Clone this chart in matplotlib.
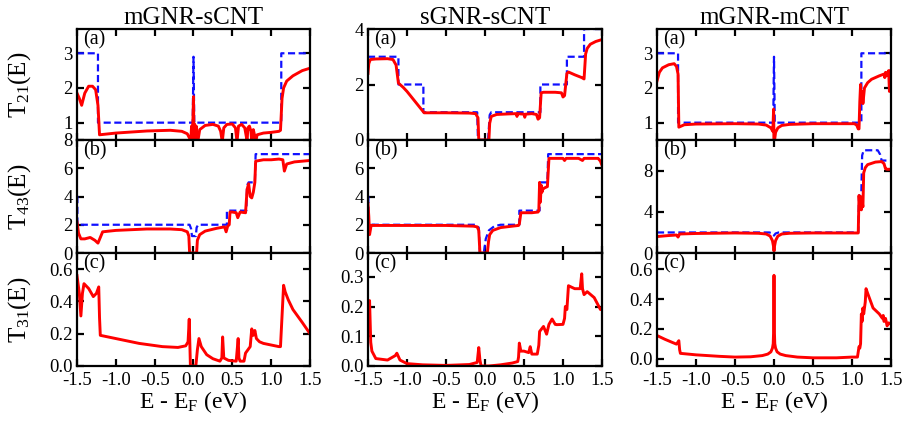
import numpy as np
import matplotlib
matplotlib.use("Agg")
import matplotlib.pyplot as plt
from matplotlib.ticker import FormatStrFormatter

plt.rcParams['font.family'] = ['Liberation Serif', 'DejaVu Serif']
plt.rcParams['mathtext.default'] = 'regular'

titles = ["mGNR-sCNT", "sGNR-sCNT", "mGNR-mCNT"]
row_ylabels = ["T$_{21}$(E)", "T$_{43}$(E)", "T$_{31}$(E)"]
panel_tags = ["(a)", "(b)", "(c)"]
x_ticks = [-1.5, -1.0, -0.5, 0.0, 0.5, 1.0, 1.5]

# ---- mGNR-sCNT ----
ms_a_ideal_x = [-1.5, -1.23, -1.23, -0.01, 0.0, 0.01, 1.13, 1.13, 1.5]
ms_a_ideal_y = [3, 3, 1, 1, 2.9, 1, 1, 3, 3]
ms_a_x = [-1.5, -1.47, -1.44, -1.4, -1.35, -1.3, -1.26, -1.23, -1.21, -1.0, -0.6, -0.3, -0.15,
          -0.08, -0.05, -0.035, -0.025, -0.015, -0.008, 0.0, 0.006, 0.015, 0.025, 0.035, 0.045,
          0.055, 0.08, 0.15, 0.25, 0.32, 0.35, 0.37, 0.39, 0.43, 0.5, 0.54, 0.56, 0.58, 0.62,
          0.66, 0.68, 0.69, 0.7, 0.72, 0.74, 0.75, 0.77, 0.79, 0.8, 0.82, 0.9, 1.0, 1.1, 1.12,
          1.14, 1.16, 1.2, 1.28, 1.4, 1.5]
ms_a_y = [1.85, 1.7, 1.5, 1.85, 2.05, 2.05, 1.95, 1.5, 0.65, 0.7, 0.76, 0.78, 0.75,
          0.68, 0.55, 0.45, 0.9, 0.45, 1.0, 1.75, 0.45, 0.95, 0.45, 0.9, 0.5,
          0.45, 0.8, 0.92, 0.95, 0.9, 0.75, 0.45, 0.85, 0.95, 0.96, 0.85, 0.45, 0.9, 0.95,
          0.85, 0.6, 0.45, 0.85, 0.9, 0.75, 0.45, 0.8, 0.6, 0.45, 0.65, 0.7, 0.72, 0.75, 0.78,
          1.7, 2.0, 2.2, 2.35, 2.5, 2.57]
ms_b_ideal_x = [-1.5, -1.495, -1.495, -0.05, -0.03, -0.02, 0.03, 0.04, 0.06, 0.43, 0.43, 0.68,
                0.69, 0.71, 0.79, 0.8, 1.5]
ms_b_ideal_y = [4, 4, 2, 2, 1.7, 1.2, 1.2, 1.8, 2.0, 2.0, 3.0, 3.0, 4.8, 5.0, 5.0, 7.0, 7.0]
ms_b_x = [-1.5, -1.48, -1.45, -1.4, -1.33, -1.27, -1.23, -1.2, -1.17, -1.0, -0.6, -0.3, -0.15,
          -0.08, -0.06, -0.05, 0.04, 0.05, 0.08, 0.15, 0.3, 0.4, 0.42, 0.44, 0.46, 0.47, 0.5,
          0.55, 0.57, 0.6, 0.67, 0.69, 0.71, 0.73, 0.75, 0.77, 0.79, 0.8, 0.9, 1.0, 1.1, 1.15,
          1.17, 1.2, 1.3, 1.5]
ms_b_y = [2.2, 1.4, 1.0, 1.0, 1.1, 0.9, 0.7, 1.1, 1.5, 1.6, 1.7, 1.7, 1.65,
          1.5, 1.2, 0.0, 0.0, 0.9, 1.3, 1.55, 1.75, 1.85, 1.5, 1.9, 2.0, 2.9, 2.9,
          2.85, 2.5, 2.9, 2.85, 4.5, 4.9, 4.0, 3.9, 4.3, 5.0, 6.5, 6.6, 6.6, 6.65, 6.6,
          5.8, 6.3, 6.45, 6.55]
ms_c_x = [-1.5, -1.47, -1.45, -1.43, -1.41, -1.35, -1.29, -1.25, -1.22, -1.21, -1.2, -1.0, -0.7,
          -0.4, -0.2, -0.1, -0.07, -0.055, -0.045, -0.04, 0.03, 0.05, 0.07, 0.1, 0.17, 0.25,
          0.34, 0.365, 0.375, 0.39, 0.45, 0.55, 0.575, 0.585, 0.6, 0.65, 0.67, 0.7, 0.73, 0.75,
          0.77, 0.79, 0.81, 0.85, 0.9, 1.0, 1.1, 1.12, 1.16, 1.18, 1.22, 1.28, 1.4, 1.5]
ms_c_y = [0.56, 0.45, 0.31, 0.45, 0.51, 0.48, 0.43, 0.45, 0.49, 0.3, 0.19, 0.17, 0.14,
          0.12, 0.115, 0.125, 0.15, 0.29, 0.1, 0.0, 0.0, 0.1, 0.17, 0.12, 0.07, 0.045,
          0.03, 0.05, 0.18, 0.05, 0.035, 0.03, 0.17, 0.05, 0.03, 0.03, 0.08, 0.1, 0.12, 0.23,
          0.19, 0.22, 0.17, 0.15, 0.14, 0.13, 0.12, 0.12, 0.5, 0.46, 0.41, 0.35, 0.27, 0.2]

# ---- sGNR-sCNT ----
ss_a_ideal_x = [-1.5, -1.11, -1.11, -0.79, -0.79, -0.1, -0.09, 0.04, 0.06, 0.08, 0.71, 0.71,
                1.05, 1.05, 1.27, 1.27, 1.5]
ss_a_ideal_y = [3, 3, 2, 2, 1, 1, 0, 0, 0.9, 1, 1, 2, 2, 3, 3, 4, 4]
ss_a_x = [-1.5, -1.49, -1.47, -1.4, -1.25, -1.18, -1.14, -1.11, -1.05, -1.0, -0.9, -0.8, -0.78,
          -0.5, -0.2, -0.12, -0.09, -0.08, 0.05, 0.06, 0.08, 0.15, 0.3, 0.4, 0.41, 0.42, 0.5,
          0.51, 0.52, 0.6, 0.66, 0.68, 0.7, 0.72, 0.75, 0.9, 0.98, 1.0, 1.02, 1.05, 1.07, 1.15,
          1.24, 1.27, 1.29, 1.31, 1.35, 1.42, 1.5]
ss_a_y = [2.4, 2.75, 2.9, 2.92, 2.93, 2.9, 2.7, 2.05, 1.9, 1.75, 1.4, 1.05, 0.98,
          0.98, 0.97, 0.95, 0.8, 0.0, 0.0, 0.6, 0.85, 0.92, 0.94, 0.95, 0.85, 0.95, 0.93,
          0.82, 0.93, 0.95, 0.92, 0.75, 0.8, 1.7, 1.72, 1.72, 1.7, 1.55, 1.6, 2.4, 2.45, 2.35,
          2.25, 2.2, 3.1, 3.3, 3.45, 3.55, 3.62]
ss_b_ideal_x = [-1.5, -1.495, -1.495, -0.12, -0.08, -0.065, -0.015, 0.01, 0.05, 0.12, 0.2, 0.44,
                0.44, 0.7, 0.7, 0.8, 0.81, 1.5]
ss_b_ideal_y = [4, 4, 2, 2, 1.8, 0, 0, 1.0, 1.6, 1.9, 2.0, 2.0, 3.0, 3.0, 5.0, 5.0, 7.0, 7.0]
ss_b_x = [-1.5, -1.49, -1.48, -1.46, -1.3, -1.0, -0.5, -0.15, -0.1, -0.08, -0.065, 0.03, 0.045,
          0.06, 0.1, 0.2, 0.35, 0.43, 0.44, 0.46, 0.6, 0.68, 0.69, 0.7, 0.71, 0.72, 0.73, 0.74,
          0.76, 0.8, 0.82, 0.9, 1.0, 1.02, 1.04, 1.2, 1.25, 1.27, 1.3, 1.45, 1.48, 1.5]
ss_b_y = [3.5, 2.6, 1.3, 1.95, 1.95, 1.95, 1.95, 1.9, 1.85, 1.6, 0.0, 0.0, 0.8,
          1.3, 1.6, 1.8, 1.9, 1.95, 2.05, 2.85, 2.85, 2.9, 3.0, 5.0, 3.6, 4.8, 4.3, 4.5,
          4.6, 4.7, 6.7, 6.7, 6.7, 6.55, 6.7, 6.7, 6.55, 6.7, 6.7, 6.7, 6.5, 6.2]
ss_c_x = [-1.5, -1.48, -1.465, -1.45, -1.4, -1.25, -1.15, -1.13, -1.09, -1.0, -0.8, -0.5, -0.2,
          -0.1, -0.08, -0.065, -0.05, 0.05, 0.2, 0.35, 0.42, 0.43, 0.44, 0.46, 0.5, 0.56, 0.58,
          0.6, 0.67, 0.69, 0.7, 0.75, 0.79, 0.82, 0.86, 0.9, 0.92, 1.0, 1.02, 1.03, 1.05, 1.07,
          1.15, 1.22, 1.24, 1.25, 1.27, 1.31, 1.4, 1.48, 1.5]
ss_c_y = [0.12, 0.22, 0.08, 0.05, 0.025, 0.02, 0.035, 0.043, 0.02, 0.008, 0.004, 0.002, 0.005,
          0.012, 0.062, 0.02, 0.0, 0.0, 0.004, 0.01, 0.015, 0.03, 0.077, 0.05, 0.05, 0.045, 0.065,
          0.04, 0.04, 0.07, 0.116, 0.133, 0.107, 0.14, 0.158, 0.14, 0.139, 0.14, 0.16, 0.2, 0.19,
          0.27, 0.26, 0.26, 0.31, 0.26, 0.24, 0.25, 0.23, 0.19, 0.19]

# ---- mGNR-mCNT ----
mm_a_ideal_x = [-1.5, -1.23, -1.23, -0.01, 0.0, 0.01, 1.12, 1.12, 1.5]
mm_a_ideal_y = [3, 3, 1, 1, 2.9, 1, 1, 3, 3]
mm_a_x = [-1.5, -1.47, -1.43, -1.35, -1.28, -1.25, -1.23, -1.22, -1.15, -1.0, -0.5, -0.2, -0.1,
          -0.04, -0.015, -0.005, 0.0, 0.005, 0.02, 0.05, 0.1, 0.2, 0.5, 0.9, 1.03, 1.06, 1.08,
          1.09, 1.1, 1.11, 1.12, 1.13, 1.14, 1.16, 1.2, 1.25, 1.35, 1.41, 1.42, 1.43, 1.44, 1.46,
          1.47, 1.48, 1.5]
mm_a_y = [2.2, 2.45, 2.58, 2.67, 2.7, 2.62, 2.4, 0.87, 0.94, 0.96, 0.97, 0.96, 0.93,
          0.85, 0.75, 1.39, 0.45, 0.45, 0.72, 0.85, 0.92, 0.95, 0.97, 0.97, 0.97, 0.93, 0.82,
          0.82, 1.6, 2.1, 1.6, 1.9, 1.55, 2.0, 2.15, 2.25, 2.35, 2.4, 2.3, 2.45, 2.35, 2.45,
          2.5, 1.9, 2.5]
mm_b_ideal_x = [-1.5, -0.06, -0.02, 0.0, 0.02, 0.06, 1.08, 1.09, 1.12, 1.13, 1.15, 1.18, 1.33,
                1.36, 1.38, 1.5]
mm_b_ideal_y = [2, 2, 1.9, 1.7, 1.9, 2, 2, 5.5, 6, 9.5, 10, 10, 10, 9.6, 9.0, 9.0]
mm_b_x = [-1.5, -1.35, -1.25, -1.23, -1.21, -1.0, -0.5, -0.2, -0.1, -0.05, -0.02, -0.005, 0.0,
          0.005, 0.02, 0.05, 0.1, 0.2, 0.5, 1.0, 1.08, 1.09, 1.1, 1.11, 1.12, 1.13, 1.14, 1.15,
          1.17, 1.2, 1.3, 1.38, 1.41, 1.43, 1.45, 1.5]
mm_b_y = [1.6, 1.7, 1.75, 1.55, 1.85, 1.9, 1.95, 1.92, 1.85, 1.65, 1.2, 0.6, 0.2,
          0.6, 1.2, 1.65, 1.85, 1.92, 1.95, 1.95, 1.95, 5.6, 4.6, 5.5, 4.2, 5.0, 4.5, 7.8,
          8.3, 8.6, 8.85, 8.9, 8.7, 8.2, 8.15, 8.15]
mm_c_x = [-1.5, -1.4, -1.31, -1.25, -1.22, -1.21, -1.2, -1.0, -0.7, -0.5, -0.3, -0.15, -0.08,
          -0.04, -0.02, -0.01, -0.004, 0.0, 0.004, 0.01, 0.02, 0.04, 0.08, 0.15, 0.3, 0.5, 0.8,
          1.0, 1.07, 1.09, 1.1, 1.11, 1.12, 1.13, 1.14, 1.15, 1.17, 1.18, 1.2, 1.27, 1.35, 1.39,
          1.4, 1.41, 1.43, 1.45, 1.47, 1.5]
mm_c_y = [0.155, 0.13, 0.11, 0.097, 0.12, 0.06, 0.035, 0.025, 0.015, 0.01, 0.012, 0.02, 0.03,
          0.045, 0.07, 0.1, 0.2, 0.56, 0.2, 0.1, 0.07, 0.045, 0.03, 0.02, 0.01, 0.005, 0.005,
          0.01, 0.01, 0.08, 0.07, 0.1, 0.3, 0.25, 0.34, 0.3, 0.38, 0.47, 0.44, 0.34, 0.3, 0.27,
          0.29, 0.25, 0.27, 0.22, 0.24, 0.23]

# per column: ylims and yticks for rows a, b, c
ylims = [[(0.5, 3.7), (0, 8), (0, 0.7)],
         [(0, 4), (0, 8), (0, 0.38)],
         [(0.5, 3.7), (0, 11), (-0.05, 0.71)]]
yticks = [[[1, 2, 3], [0, 2, 4, 6, 8], [0.0, 0.2, 0.4, 0.6]],
          [[0, 2, 4], [0, 2, 4, 6], [0.0, 0.1, 0.2, 0.3]],
          [[1, 2, 3], [0, 4, 8], [0.0, 0.2, 0.4, 0.6]]]

columns = [
    [(ms_a_ideal_x, ms_a_ideal_y, ms_a_x, ms_a_y),
     (ms_b_ideal_x, ms_b_ideal_y, ms_b_x, ms_b_y),
     (None, None, ms_c_x, ms_c_y)],
    [(ss_a_ideal_x, ss_a_ideal_y, ss_a_x, ss_a_y),
     (ss_b_ideal_x, ss_b_ideal_y, ss_b_x, ss_b_y),
     (None, None, ss_c_x, ss_c_y)],
    [(mm_a_ideal_x, mm_a_ideal_y, mm_a_x, mm_a_y),
     (mm_b_ideal_x, mm_b_ideal_y, mm_b_x, mm_b_y),
     (None, None, mm_c_x, mm_c_y)],
]

W, H = 903, 421
fig = plt.figure(figsize=(W / 100, H / 100), dpi=100)

col_px = [(77, 310), (368, 602), (657, 891)]
row_px = [(29, 140), (140, 253), (253, 366)]

for ci, (x0, x1) in enumerate(col_px):
    for ri, (y0, y1) in enumerate(row_px):
        ax = fig.add_axes([x0 / W, 1 - y1 / H, (x1 - x0) / W, (y1 - y0) / H])
        ix, iy, rx, ry = columns[ci][ri]
        if ix is not None:
            ax.plot(ix, iy, color='#1010ff', lw=1.6, dashes=(3.2, 1.6))
        ax.plot(rx, ry, color='#ff0000', lw=2.1)
        ax.set_xlim(-1.5, 1.5)
        ax.set_ylim(*ylims[ci][ri])
        ax.set_xticks(x_ticks)
        ax.set_yticks(yticks[ci][ri])
        if ri == 2:
            ax.yaxis.set_major_formatter(FormatStrFormatter('%.1f'))
            ax.set_xticklabels([f"{t:.1f}" for t in x_ticks])
            ax.set_xlabel("E - E$_F$ (eV)", fontsize=17, labelpad=0)
        else:
            ax.set_xticklabels([])
        ax.tick_params(direction='in', top=True, right=True, length=5, width=1.6,
                       labelsize=13.5, pad=3)
        ax.tick_params(axis='x', pad=4.5)
        for sp in ax.spines.values():
            sp.set_linewidth(1.6)
        ax.text(0.025, 0.985, panel_tags[ri], transform=ax.transAxes, ha='left', va='top',
                fontsize=14.5)
        if ci == 0:
            ax.set_ylabel(row_ylabels[ri], fontsize=18)
            ax.yaxis.set_label_coords(-0.19, 0.5)
        if ri == 0:
            ax.set_title(titles[ci], fontsize=18, pad=3)

fig.savefig("out.png", dpi=100)
